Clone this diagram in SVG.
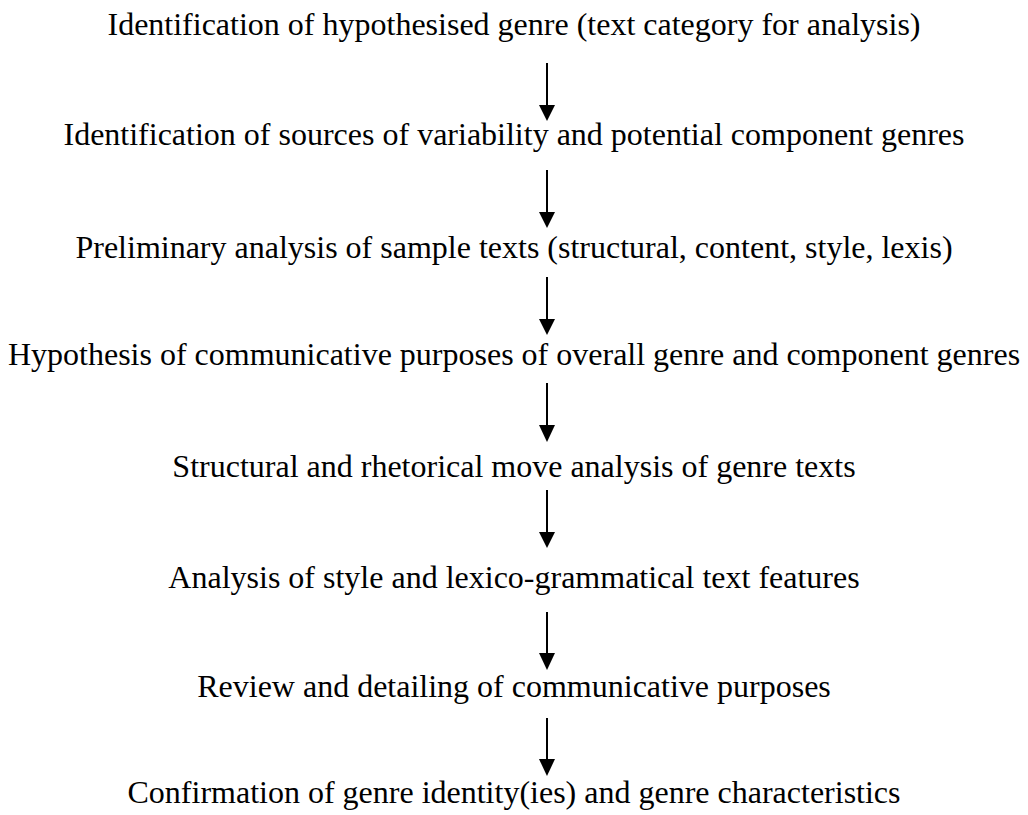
<svg xmlns="http://www.w3.org/2000/svg" width="1028" height="815" viewBox="0 0 1028 815">
  <defs>
    <style>
      .step { font-family: 'Liberation Serif', 'Times New Roman', serif; font-size: 32px; fill: #000; text-anchor: middle; }
      .flow { stroke: #000; stroke-width: 2; fill: none; }
      .tip { fill: #000; }
    </style>
  </defs>
  <rect width="1028" height="815" fill="#fff"/>

  <!-- process steps, top to bottom -->
  <g id="step1"><text class="step" x="514" y="35">Identification of hypothesised genre (text category for analysis)</text></g>
  <g id="step2"><text class="step" x="514" y="145">Identification of sources of variability and potential component genres</text></g>
  <g id="step3"><text class="step" x="514" y="258">Preliminary analysis of sample texts (structural, content, style, lexis)</text></g>
  <g id="step4"><text class="step" x="514" y="365">Hypothesis of communicative purposes of overall genre and component genres</text></g>
  <g id="step5"><text class="step" x="514" y="477">Structural and rhetorical move analysis of genre texts</text></g>
  <g id="step6"><text class="step" x="514" y="588">Analysis of style and lexico-grammatical text features</text></g>
  <g id="step7"><text class="step" x="514" y="697">Review and detailing of communicative purposes</text></g>
  <g id="step8"><text class="step" x="514" y="803">Confirmation of genre identity(ies) and genre characteristics</text></g>

  <!-- downward arrows between steps -->
  <g id="connectors">
    <line class="flow" x1="547" y1="63" x2="547" y2="106"/>
    <path class="tip" d="M539,105 L555,105 L547,121 Z"/>
    <line class="flow" x1="547" y1="170" x2="547" y2="213"/>
    <path class="tip" d="M539,212 L555,212 L547,228 Z"/>
    <line class="flow" x1="547" y1="277" x2="547" y2="320"/>
    <path class="tip" d="M539,319 L555,319 L547,335 Z"/>
    <line class="flow" x1="547" y1="383" x2="547" y2="426"/>
    <path class="tip" d="M539,425 L555,425 L547,442 Z"/>
    <line class="flow" x1="547" y1="490" x2="547" y2="533"/>
    <path class="tip" d="M539,532 L555,532 L547,548 Z"/>
    <line class="flow" x1="547" y1="612" x2="547" y2="654"/>
    <path class="tip" d="M539,653 L555,653 L547,670 Z"/>
    <line class="flow" x1="547" y1="718" x2="547" y2="760"/>
    <path class="tip" d="M539,759 L555,759 L547,776 Z"/>
  </g>
</svg>
